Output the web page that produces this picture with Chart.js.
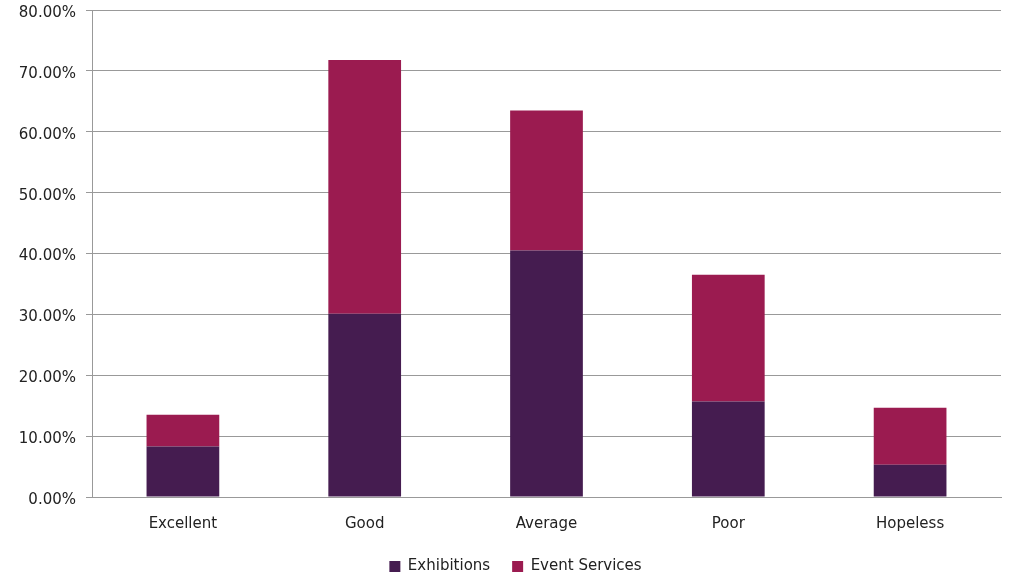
<!DOCTYPE html>
<html>
<head>
<meta charset="utf-8">
<script src="https://cdn.jsdelivr.net/npm/chart.js@4"></script>
<style>
  html, body { margin: 0; padding: 0; background: #fff; }
  .chart-box { width: 1011px; height: 578px; }
</style>
</head>
<body>
<div class="chart-box"><canvas id="chart1"></canvas></div>
<script>
const categories = ["Excellent", "Good", "Average", "Poor", "Hopeless"];
const exhibitions = [8.3, 30.1, 40.5, 15.7, 5.3];
const eventServices = [5.2, 41.7, 23.0, 20.8, 9.35];
const yTicks = [0, 10, 20, 30, 40, 50, 60, 70, 80];

const FONT = "'DejaVu Sans', sans-serif";
const GRID = "#999999";

// nudge the legend a bit right of the canvas centre
const legendShift = {
  id: "legendShift",
  afterLayout(chart) {
    if (chart.legend) {
      chart.legend.left += 15;
      chart.legend.right += 15;
    }
  },
};

const ctx = document.getElementById("chart1").getContext("2d");
new Chart(ctx, {
  type: "bar",
  data: {
    labels: categories,
    datasets: [
      { label: "Exhibitions", data: exhibitions, backgroundColor: "#451c50", borderWidth: 0 },
      { label: "Event Services", data: eventServices, backgroundColor: "#9b1b50", borderWidth: 0 },
    ],
  },
  plugins: [legendShift],
  options: {
    responsive: true,
    maintainAspectRatio: false,
    animation: false,
    layout: { padding: { top: 10, right: 10, left: 0, bottom: -6 } },
    datasets: { bar: { categoryPercentage: 1, barPercentage: 0.4 } },
    plugins: {
      tooltip: { enabled: false },
      legend: {
        position: "bottom",
        labels: {
          font: { family: FONT, size: 15 },
          color: "#222",
          boxWidth: 11,
          boxHeight: 11,
          padding: 22,
        },
      },
    },
    scales: {
      x: {
        stacked: true,
        grid: { display: false },
        border: { color: GRID, width: 1 },
        ticks: { font: { family: FONT, size: 15 }, color: "#222", padding: 10 },
        afterFit: (scale) => { scale.height = 40; },
      },
      y: {
        stacked: true,
        min: 0,
        max: 80,
        afterBuildTicks: (scale) => { scale.ticks = yTicks.map((v) => ({ value: v })); },
        grid: { color: GRID, lineWidth: 1, tickLength: 6 },
        border: { color: GRID, width: 1 },
        ticks: {
          font: { family: FONT, size: 15 },
          color: "#222",
          padding: 10,
          labelOffset: 3,
          callback: (v) => v.toFixed(2) + "%",
        },
        afterFit: (scale) => {
          scale.width = 92;
          scale.paddingTop = 0;
          scale.paddingBottom = 0;
        },
      },
    },
  },
});
</script>
</body>
</html>
